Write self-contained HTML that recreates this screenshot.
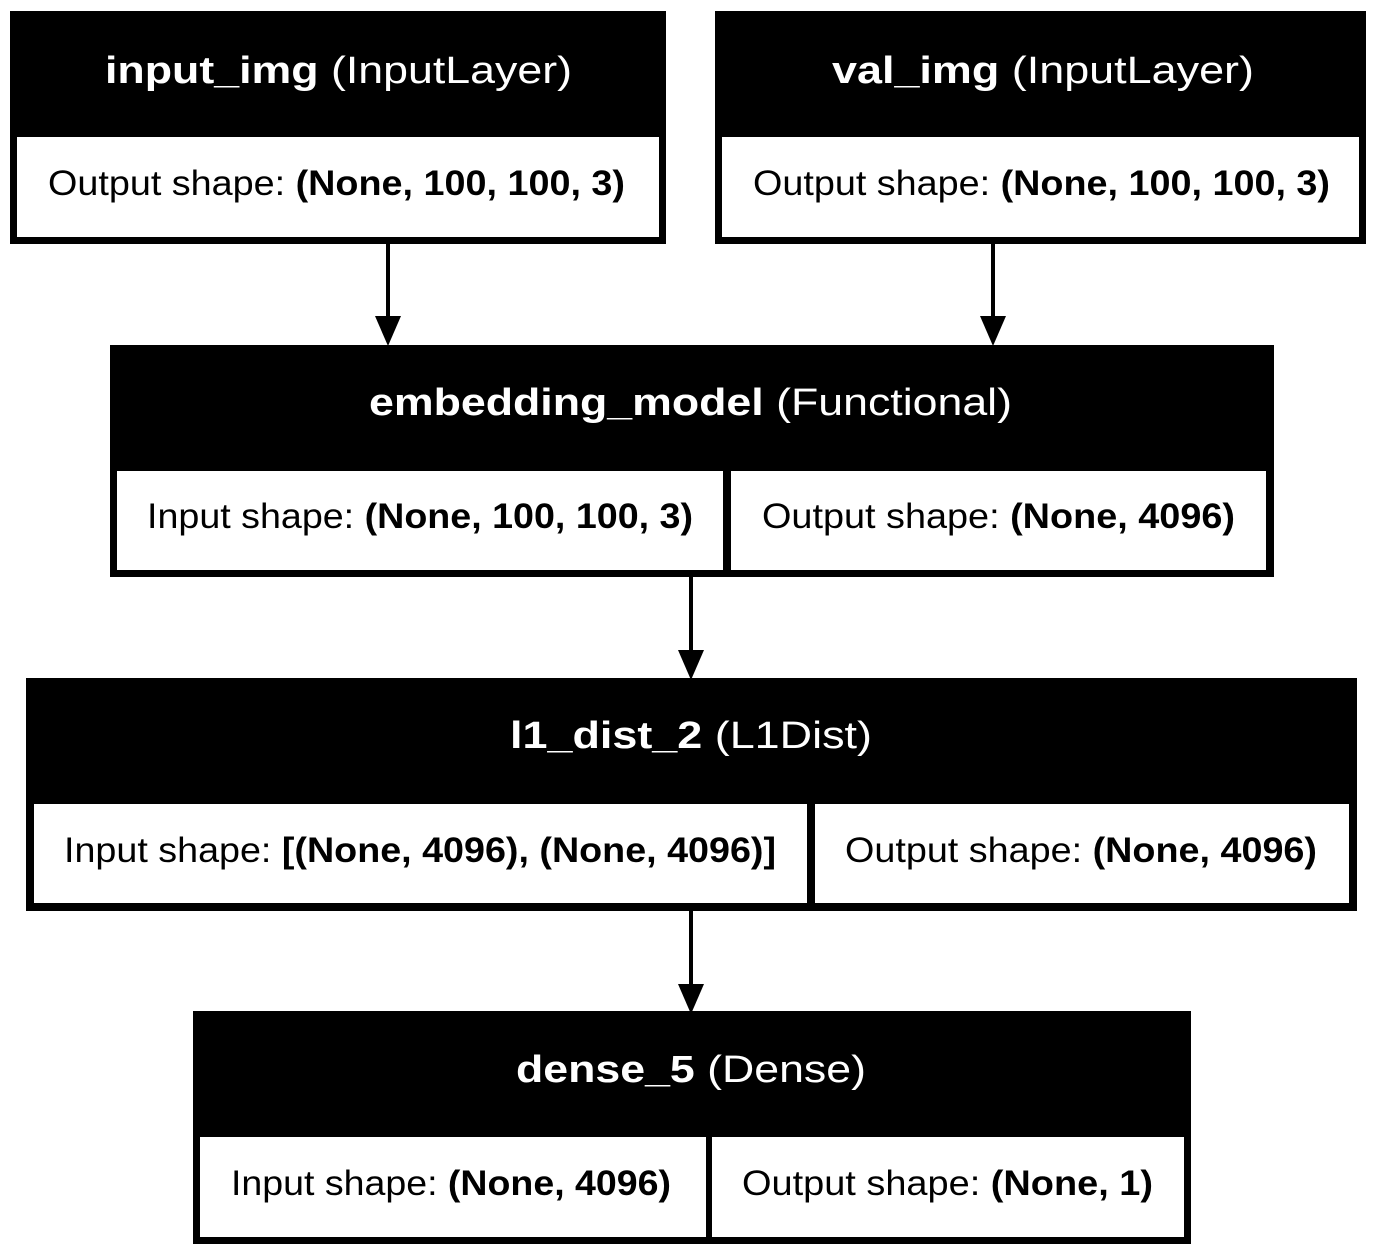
<!DOCTYPE html>
<html><head><meta charset="utf-8"><style>
html,body{margin:0;padding:0;background:#fff;width:1383px;height:1256px;overflow:hidden}
svg text{font-family:"Liberation Sans",sans-serif}
.h{fill:#fff;font-size:38px}
.c{fill:#000;font-size:35px}
.b{font-weight:bold}
</style></head><body>
<svg width="1383" height="1256" viewBox="0 0 1383 1256" xmlns="http://www.w3.org/2000/svg">
<rect x="10" y="11" width="656" height="233" fill="#000"/>
<rect x="17" y="137" width="642" height="100" fill="#fff"/>
<text class="h" x="105" y="83" textLength="467" lengthAdjust="spacingAndGlyphs"><tspan class="b">input_img</tspan> (InputLayer)</text>
<text class="c" x="48" y="195" textLength="577" lengthAdjust="spacingAndGlyphs">Output shape: <tspan class="b">(None, 100, 100, 3)</tspan></text>
<rect x="715" y="11" width="651" height="233" fill="#000"/>
<rect x="722" y="137" width="637" height="100" fill="#fff"/>
<text class="h" x="832" y="83" textLength="422" lengthAdjust="spacingAndGlyphs"><tspan class="b">val_img</tspan> (InputLayer)</text>
<text class="c" x="753" y="195" textLength="577" lengthAdjust="spacingAndGlyphs">Output shape: <tspan class="b">(None, 100, 100, 3)</tspan></text>
<line x1="388" y1="244" x2="388" y2="320" stroke="#000" stroke-width="4"/>
<polygon points="375,316 401,316 388,346" fill="#000"/>
<line x1="993" y1="244" x2="993" y2="320" stroke="#000" stroke-width="4"/>
<polygon points="980,316 1006,316 993,346" fill="#000"/>
<rect x="110" y="345" width="1164" height="232" fill="#000"/>
<rect x="117" y="471" width="606" height="99" fill="#fff"/>
<rect x="731" y="471" width="535" height="99" fill="#fff"/>
<text class="h" x="369" y="415" textLength="643" lengthAdjust="spacingAndGlyphs"><tspan class="b">embedding_model</tspan> (Functional)</text>
<text class="c" x="147" y="528" textLength="546" lengthAdjust="spacingAndGlyphs">Input shape: <tspan class="b">(None, 100, 100, 3)</tspan></text>
<text class="c" x="762" y="528" textLength="473" lengthAdjust="spacingAndGlyphs">Output shape: <tspan class="b">(None, 4096)</tspan></text>
<line x1="691" y1="577" x2="691" y2="654" stroke="#000" stroke-width="4"/>
<polygon points="678,650 704,650 691,680" fill="#000"/>
<rect x="26" y="678" width="1331" height="233" fill="#000"/>
<rect x="34" y="804" width="773" height="99" fill="#fff"/>
<rect x="815" y="804" width="534" height="99" fill="#fff"/>
<text class="h" x="510" y="748" textLength="362" lengthAdjust="spacingAndGlyphs"><tspan class="b">l1_dist_2</tspan> (L1Dist)</text>
<text class="c" x="64" y="862" textLength="712" lengthAdjust="spacingAndGlyphs">Input shape: <tspan class="b">[(None, 4096), (None, 4096)]</tspan></text>
<text class="c" x="845" y="862" textLength="472" lengthAdjust="spacingAndGlyphs">Output shape: <tspan class="b">(None, 4096)</tspan></text>
<line x1="691" y1="911" x2="691" y2="988" stroke="#000" stroke-width="4"/>
<polygon points="678,984 704,984 691,1014" fill="#000"/>
<rect x="193" y="1011" width="998" height="233" fill="#000"/>
<rect x="200" y="1137" width="506" height="100" fill="#fff"/>
<rect x="712" y="1137" width="472" height="100" fill="#fff"/>
<text class="h" x="516" y="1082" textLength="350" lengthAdjust="spacingAndGlyphs"><tspan class="b">dense_5</tspan> (Dense)</text>
<text class="c" x="231" y="1195" textLength="440" lengthAdjust="spacingAndGlyphs">Input shape: <tspan class="b">(None, 4096)</tspan></text>
<text class="c" x="742" y="1195" textLength="411" lengthAdjust="spacingAndGlyphs">Output shape: <tspan class="b">(None, 1)</tspan></text>
</svg>
</body></html>
